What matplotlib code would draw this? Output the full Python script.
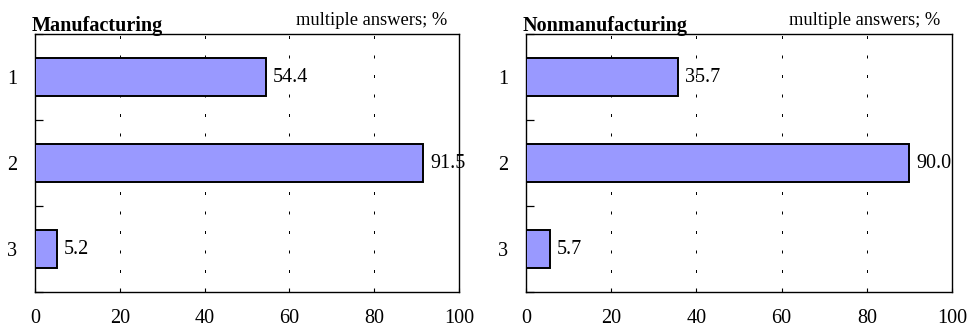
import matplotlib
matplotlib.use("Agg")
import matplotlib.pyplot as plt
import numpy as np

plt.rcParams['font.family'] = ['Liberation Serif', 'DejaVu Serif']

categories = ["1", "2", "3"]
manufacturing = [54.4, 91.5, 5.2]
nonmanufacturing = [35.7, 90.0, 5.7]
titles = ["Manufacturing", "Nonmanufacturing"]
note = "multiple answers; %"
xticks = [0, 20, 40, 60, 80, 100]

fig = plt.figure(figsize=(9.7, 3.31), dpi=100)
W, H = 970, 331
boxes = [(35, 459), (526, 952)]
top_px, bot_px = 34, 292

for (l, r), vals, title in zip(boxes, [manufacturing, nonmanufacturing], titles):
    ax = fig.add_axes([l / W, 1 - bot_px / H, (r - l) / W, (bot_px - top_px) / H])
    y = np.arange(len(categories))
    ax.barh(y, vals, height=0.45, color="#9999FF", edgecolor="black", linewidth=1.4, zorder=3)
    ax.set_xlim(0, 100)
    ax.set_ylim(len(categories) - 0.5, -0.5)
    ax.set_xticks(xticks)
    ax.set_xticklabels([str(t) for t in xticks], fontsize=14.5)
    ax.tick_params(axis='x', direction='in', length=3, width=0.8, pad=12.5)
    ax.set_yticks(y)
    ax.set_yticklabels(categories, fontsize=14.5)
    ax.tick_params(axis='y', which='major', length=0, pad=13)
    ax.set_yticks(np.arange(-0.5, len(categories) + 0.5, 1.0), minor=True)
    ax.tick_params(axis='y', which='minor', direction='in', length=6, width=0.9)
    for xv in xticks[1:-1]:
        ax.axvline(xv, color="black", linewidth=0.72, linestyle=(0, (3, 16.5)), zorder=1)
    for yi, v in zip(y, vals):
        ax.annotate(f"{v:.1f}", xy=(v, yi), xytext=(5, 0), textcoords="offset points",
                    va="center", ha="left", fontsize=14.5, zorder=4)
    for s in ax.spines.values():
        s.set_linewidth(1.0)
    ax.text(-0.007, 1.012, title, transform=ax.transAxes, fontsize=14.5,
            fontweight="bold", ha="left", va="baseline")
    ax.text(0.972, 1.035, note, transform=ax.transAxes, fontsize=13.3,
            ha="right", va="baseline")

fig.savefig("out.png", dpi=100)
